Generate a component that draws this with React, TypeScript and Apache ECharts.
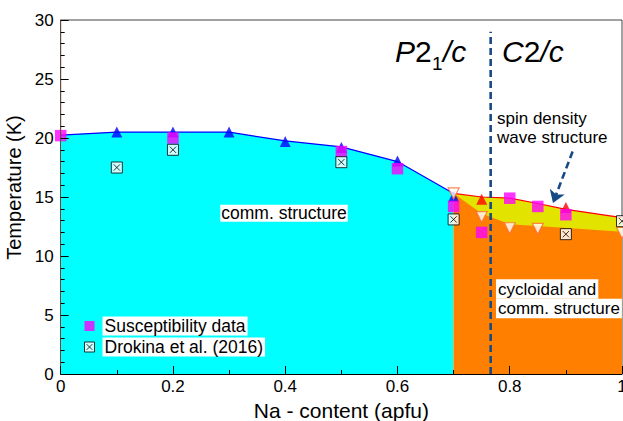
import React, { useEffect, useRef } from 'react';
import * as echarts from 'echarts';

const FONT = '"Liberation Sans", Arial, Helvetica, sans-serif';

// Phase boundary of the commensurate (cyan) region
const blueBoundary = [[0, 20.25], [0.1, 20.5], [0.2, 20.5], [0.3, 20.5], [0.4, 19.75], [0.5, 19.25], [0.6, 18.0], [0.7, 15.3]];
const blueTriangles = [[0.1, 20.5], [0.2, 20.5], [0.3, 20.5], [0.4, 19.7], [0.5, 19.2], [0.6, 18.05], [0.7, 15.05]];
// Upper boundary of the spin density wave (yellow) region
const redBoundary = [[0.7, 15.3], [0.75, 15.0], [0.8, 14.9], [0.85, 14.45], [0.9, 13.95], [1.0, 13.25]];
const redTriangles = [[0.75, 14.8], [0.9, 14.1]];
// Upper boundary of the cycloidal (orange) region
const orangeBoundary = [[0.7, 15.3], [0.75, 13.6], [0.8, 12.7], [0.85, 12.55], [1.0, 12.05]];
const openTriangles = [[0.7, 15.3], [0.75, 13.3], [0.8, 12.35], [0.85, 12.3], [1.0, 11.95]];
const susceptibility = [[0, 20.2], [0.2, 20.0], [0.5, 18.85], [0.6, 17.4], [0.7, 14.2], [0.75, 12.0], [0.8, 14.9], [0.85, 14.2], [0.9, 13.5]];
const drokina = [[0.1, 17.5], [0.2, 19.0], [0.5, 17.95], [0.7, 13.1], [0.9, 11.85], [1.0, 12.95]];
const phaseLine = [[0.766, 0], [0.766, 29]];
const arrowFrom = [0.912, 18.85];
const arrowTo = [0.877, 14.5];

const DROKINA_SYMBOL = 'path://M0,0H12V12H0Z M2.6,2.6L9.4,9.4 M9.4,2.6L2.6,9.4';
const SQUARE_SYMBOL = 'path://M0,0H10V10H0Z';

export default function App() {
  const ref = useRef<HTMLDivElement>(null);
  useEffect(() => {
    if (!ref.current) return;
    const chart = echarts.init(ref.current, null, { renderer: 'svg' });
    const txt = (extra: any) => ({ fontFamily: FONT, fill: '#000', verticalAlign: 'middle', textVerticalAlign: 'middle', ...extra });
    chart.setOption({
      animation: false,
      textStyle: { fontFamily: FONT },
      grid: { left: 60.7, right: 1, top: 20, bottom: 47, show: true, borderColor: '#444', borderWidth: 1,
        containLabel: false, outerBoundsMode: 'none' },
      xAxis: {
        type: 'value', min: 0, max: 1, interval: 0.2, z: 10,
        name: 'Na - content (apfu)', nameLocation: 'middle', nameGap: 22,
        nameTextStyle: { fontSize: 21, color: '#000', fontFamily: FONT },
        axisLine: { lineStyle: { color: '#000', width: 1 } },
        axisTick: { inside: true, length: 8, lineStyle: { color: '#000' } },
        minorTick: { show: true, splitNumber: 2, length: 4, lineStyle: { color: '#000' } },
        axisLabel: { fontSize: 17, color: '#000', margin: 4, fontFamily: FONT },
        splitLine: { show: false },
      },
      yAxis: {
        type: 'value', min: 0, max: 30, interval: 5, z: 10,
        name: 'Temperature (K)', nameLocation: 'middle', nameGap: 29,
        nameTextStyle: { fontSize: 20, color: '#000', fontFamily: FONT, padding: [0, 0, 0, 19] },
        axisLine: { lineStyle: { color: '#6b4a3a', width: 1 } },
        axisTick: { inside: true, length: 8, lineStyle: { color: '#000' } },
        minorTick: { show: true, splitNumber: 5, length: 4, lineStyle: { color: '#000' } },
        axisLabel: { fontSize: 17, color: '#000', margin: 7, fontFamily: FONT },
        splitLine: { show: false },
      },
      legend: {
        orient: 'vertical', left: 84, top: 316.5, padding: 0, itemGap: 2,
        itemWidth: 16, itemHeight: 10, selectedMode: false,
        textStyle: { fontSize: 17.5, color: '#000', fontFamily: FONT, backgroundColor: '#fff', padding: [1, 2, 0, 2], lineHeight: 18 },
        data: [
          { name: 'Susceptibility data', icon: SQUARE_SYMBOL, itemStyle: { color: '#ff00ff', borderWidth: 0 } },
          { name: 'Drokina et al. (2016)', icon: DROKINA_SYMBOL, itemStyle: { color: '#fff', borderColor: '#000', borderWidth: 1 } },
        ],
      },
      series: [
        { name: 'cyanArea', type: 'line', data: [...blueBoundary, [0.7, 0]], symbol: 'none', z: 1,
          lineStyle: { width: 0 }, areaStyle: { color: '#00ffff', opacity: 1 }, silent: true },
        { name: 'yellowArea', type: 'line', data: redBoundary, symbol: 'none', z: 1,
          lineStyle: { width: 0 }, areaStyle: { color: '#e3e300', opacity: 1 }, silent: true },
        { name: 'orangeArea', type: 'line', data: orangeBoundary, symbol: 'none', z: 1,
          lineStyle: { width: 0 }, areaStyle: { color: '#ff8000', opacity: 1 }, silent: true },
        { name: 'blueLine', type: 'line', data: blueBoundary, symbol: 'none', z: 2,
          lineStyle: { color: '#0000ff', width: 1.2 } },
        { name: 'redLine', type: 'line', data: redBoundary, symbol: 'none', z: 2,
          lineStyle: { color: '#ff0000', width: 1.2 } },
        { name: 'phaseLine', type: 'line', data: phaseLine, symbol: 'none', z: 3,
          lineStyle: { color: '#164a84', width: 2.6, type: [7, 4] },
          markLine: {
            silent: true, symbol: ['none', 'arrow'], symbolSize: 12,
            lineStyle: { color: '#164a84', width: 2.6, type: [7, 4] },
            label: { show: false },
            data: [[{ coord: arrowFrom }, { coord: arrowTo }]],
          } },
        { name: 'blueTriangles', type: 'scatter', data: blueTriangles, symbol: 'triangle', symbolSize: 11, z: 4,
          itemStyle: { color: '#0000ff' } },
        { name: 'redTriangles', type: 'scatter', data: redTriangles, symbol: 'triangle', symbolSize: 11, z: 4,
          itemStyle: { color: '#ff0000' } },
        { name: 'openTriangles', type: 'scatter', data: openTriangles, symbol: 'triangle', symbolRotate: 180, symbolSize: 11, z: 4,
          itemStyle: { color: '#ffffff', borderColor: '#ff6a30', borderWidth: 1.2 } },
        { name: 'Susceptibility data', type: 'scatter', data: susceptibility, symbol: 'rect', symbolSize: 11.5, z: 5,
          itemStyle: { color: '#ff00ff' } },
        { name: 'Drokina et al. (2016)', type: 'scatter', data: drokina, symbol: DROKINA_SYMBOL, symbolSize: 11, z: 6,
          itemStyle: { color: '#ffffff', borderColor: '#000', borderWidth: 1 } },
      ],
      graphic: [
        { type: 'text', x: 395, y: 51.6, z: 20, style: txt({
          text: '{i|P}{n|2}',
          rich: { i: { fontSize: 30, fontStyle: 'italic', fontFamily: FONT, fill: '#000' }, n: { fontSize: 30, fontFamily: FONT, fill: '#000' } } }) },
        { type: 'text', x: 432, y: 63.4, z: 20, style: txt({ text: '1', fontSize: 19 }) },
        { type: 'text', x: 443, y: 51.6, z: 20, style: txt({ text: '/c', fontSize: 30, fontStyle: 'italic' }) },
        { type: 'text', x: 502, y: 51.6, z: 20, style: txt({
          text: '{i|C}{n|2}{i|/c}',
          rich: { i: { fontSize: 30, fontStyle: 'italic', fontFamily: FONT, fill: '#000' }, n: { fontSize: 30, fontFamily: FONT, fill: '#000' } } }) },
        { type: 'text', x: 497, y: 118, z: 20, style: txt({ text: 'spin density', fontSize: 17 }) },
        { type: 'text', x: 497, y: 137.5, z: 20, style: txt({ text: 'wave structure', fontSize: 17 }) },
        { type: 'text', x: 284, y: 213.3, z: 20, style: txt({ text: 'comm. structure', fontSize: 17.5, lineHeight: 17,
          align: 'center', textAlign: 'center', backgroundColor: '#fff', padding: [0, 1] }) },
        { type: 'text', x: 496, y: 289, z: 20, style: txt({ text: 'cycloidal and', fontSize: 17, lineHeight: 19.5,
          backgroundColor: '#fff', padding: [0, 2] }) },
        { type: 'text', x: 496, y: 308.5, z: 20, style: txt({ text: 'comm. structure', fontSize: 17, lineHeight: 19.5,
          backgroundColor: '#fff', padding: [0, 2] }) },
      ],
    });
    return () => chart.dispose();
  }, []);
  return <div ref={ref} style={{ position: 'fixed', left: 0, top: 0, width: 623, height: 421, background: '#fff' }} />;
}
